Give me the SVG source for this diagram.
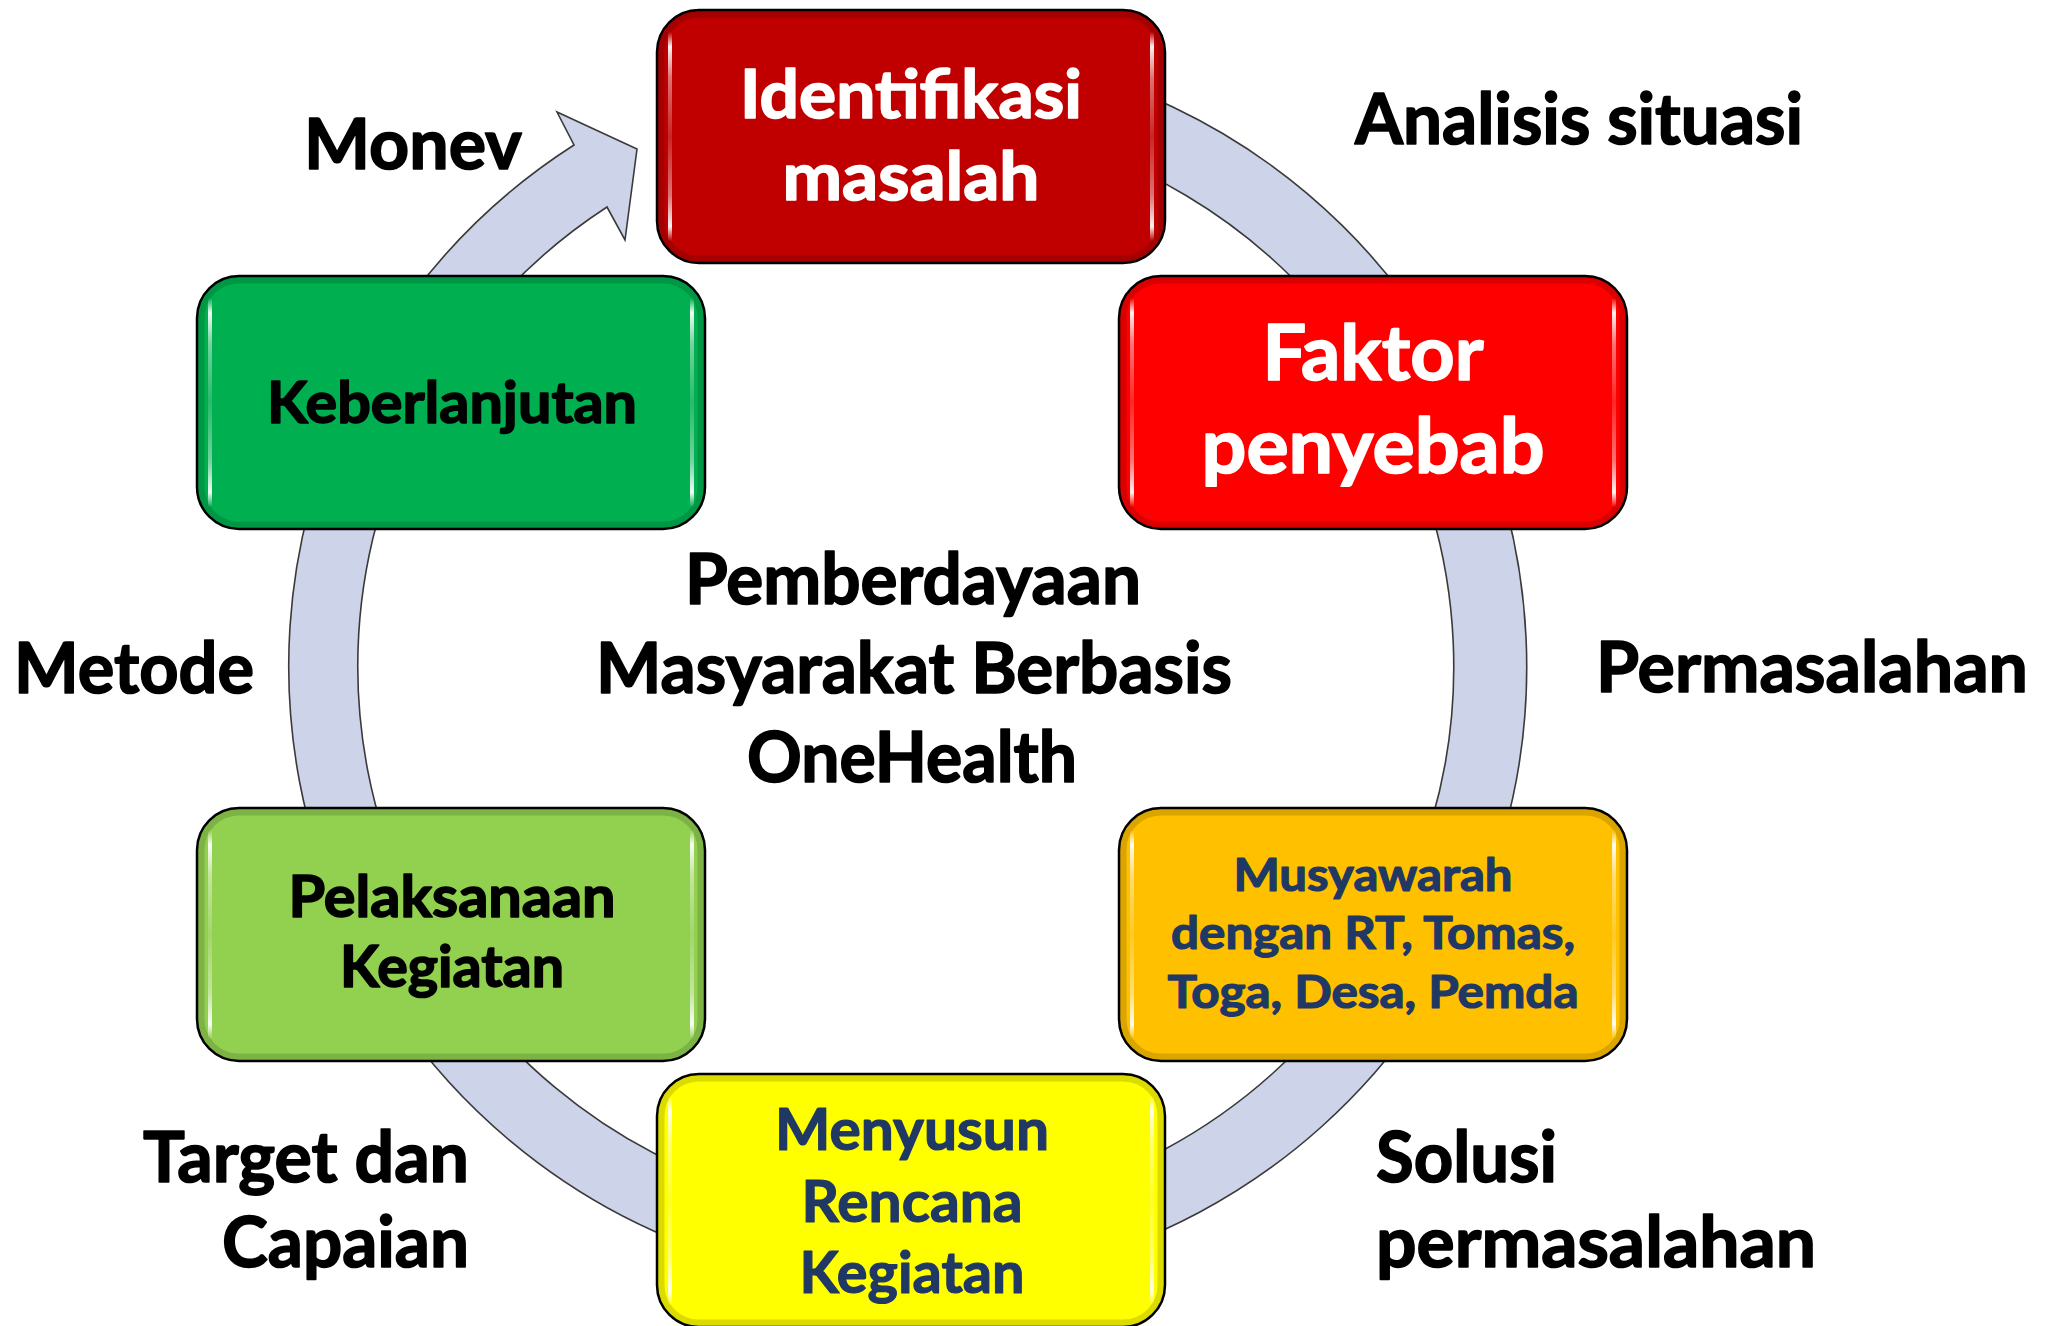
<svg xmlns="http://www.w3.org/2000/svg" xmlns:xlink="http://www.w3.org/1999/xlink" width="2059" height="1326" viewBox="0 0 2059 1326">
  <style>
    .t { font-family: Lato, "Open Sans", "Liberation Sans", sans-serif; font-weight: 700; stroke-width: 1.6; stroke-linejoin: round; }
    .lbl { font-size: 71px; fill: #000000; stroke: #000000; }
    .center { font-size: 70px; fill: #000000; stroke: #000000; text-anchor: middle; }
    .mid { text-anchor: middle; }
    .white { fill: #ffffff; stroke: #ffffff; }
    .black { fill: #000000; stroke: #000000; }
    .navy { fill: #1F3864; stroke: #1F3864; stroke-width: 1.2; }
    .box { stroke: #000000; stroke-width: 2.5; }
    .ring { fill: #CDD4E9; stroke: #3a3a3a; stroke-width: 1.6; stroke-linejoin: miter; }
  </style>
  <defs>
    <!-- glossy side highlights used on every box -->
    <linearGradient id="shine" gradientUnits="userSpaceOnUse" x1="0" y1="22" x2="0" y2="231">
      <stop offset="0" stop-color="#ffffff" stop-opacity="0"/>
      <stop offset="0.07" stop-color="#ffffff" stop-opacity="0.95"/>
      <stop offset="0.22" stop-color="#ffffff" stop-opacity="0.45"/>
      <stop offset="0.5" stop-color="#ffffff" stop-opacity="0.15"/>
      <stop offset="0.78" stop-color="#ffffff" stop-opacity="0.45"/>
      <stop offset="0.93" stop-color="#ffffff" stop-opacity="0.95"/>
      <stop offset="1" stop-color="#ffffff" stop-opacity="0"/>
    </linearGradient>
    <g id="bevel">
      <rect x="4" y="4" width="500" height="245" rx="38" ry="38" fill="none" stroke="#000000" stroke-opacity="0.14" stroke-width="7"/>
      <path d="M13,22 L13,231 M495,22 L495,231" fill="none" stroke="url(#shine)" stroke-width="4" stroke-linecap="round"/>
    </g>
  </defs>

  <rect x="0" y="0" width="2059" height="1326" fill="#ffffff"/>

  <!-- cycle arrow -->
  <g id="connectors">
    <path class="ring" d="M 965,50 A 619,619 0 1 1 574,145 L 557,112 L 637,149 L 625,240 L 607,207 A 548,548 0 1 0 959,121 Z"/>
  </g>

  <!-- step boxes -->
  <g id="node-identifikasi" transform="translate(657,10)">
    <rect class="box" x="0" y="0" width="508" height="253" rx="42" ry="42" fill="#C00000"/>
    <use xlink:href="#bevel"/>
    <text class="t mid white" x="254" y="108" font-size="67" textLength="342" lengthAdjust="spacingAndGlyphs">Identifikasi</text>
    <text class="t mid white" x="254" y="190" font-size="67" textLength="257" lengthAdjust="spacingAndGlyphs">masalah</text>
  </g>

  <g id="node-faktor" transform="translate(1119,276)">
    <rect class="box" x="0" y="0" width="508" height="253" rx="42" ry="42" fill="#FF0000"/>
    <use xlink:href="#bevel"/>
    <text class="t mid white" x="254" y="104" font-size="76" textLength="221" lengthAdjust="spacingAndGlyphs">Faktor</text>
    <text class="t mid white" x="254" y="197" font-size="76" textLength="343" lengthAdjust="spacingAndGlyphs">penyebab</text>
  </g>

  <g id="node-musyawarah" transform="translate(1119,808)">
    <rect class="box" x="0" y="0" width="508" height="253" rx="42" ry="42" fill="#FFC000"/>
    <use xlink:href="#bevel"/>
    <text class="t mid navy" x="254" y="83" font-size="45" textLength="279" lengthAdjust="spacingAndGlyphs">Musyawarah</text>
    <text class="t mid navy" x="254" y="141" font-size="45" textLength="404" lengthAdjust="spacingAndGlyphs">dengan RT, Tomas,</text>
    <text class="t mid navy" x="254" y="200" font-size="45" textLength="411" lengthAdjust="spacingAndGlyphs">Toga, Desa, Pemda</text>
  </g>

  <g id="node-menyusun" transform="translate(657,1074)">
    <rect class="box" x="0" y="0" width="508" height="253" rx="42" ry="42" fill="#FFFF00"/>
    <use xlink:href="#bevel"/>
    <text class="t mid navy" x="255" y="76" font-size="57" textLength="274" lengthAdjust="spacingAndGlyphs">Menyusun</text>
    <text class="t mid navy" x="255" y="148" font-size="57" textLength="221" lengthAdjust="spacingAndGlyphs">Rencana</text>
    <text class="t mid navy" x="255" y="219" font-size="57" textLength="225" lengthAdjust="spacingAndGlyphs">Kegiatan</text>
  </g>

  <g id="node-pelaksanaan" transform="translate(197,808)">
    <rect class="box" x="0" y="0" width="508" height="253" rx="42" ry="42" fill="#92D050"/>
    <use xlink:href="#bevel"/>
    <text class="t mid black" x="255" y="109" font-size="57" textLength="327" lengthAdjust="spacingAndGlyphs">Pelaksanaan</text>
    <text class="t mid black" x="255" y="179" font-size="57" textLength="224" lengthAdjust="spacingAndGlyphs">Kegiatan</text>
  </g>

  <g id="node-keberlanjutan" transform="translate(197,276)">
    <rect class="box" x="0" y="0" width="508" height="253" rx="42" ry="42" fill="#00B050"/>
    <use xlink:href="#bevel"/>
    <text class="t mid black" x="255" y="147" font-size="57" textLength="370" lengthAdjust="spacingAndGlyphs">Keberlanjutan</text>
  </g>

  <!-- centre title -->
  <g id="title">
    <text class="t center" x="913" y="604" textLength="456" lengthAdjust="spacingAndGlyphs">Pemberdayaan</text>
    <text class="t center" x="914" y="693" textLength="636" lengthAdjust="spacingAndGlyphs">Masyarakat Berbasis</text>
    <text class="t center" x="912" y="782" textLength="330" lengthAdjust="spacingAndGlyphs">OneHealth</text>
  </g>

  <!-- stage labels around the cycle -->
  <g id="labels">
    <text class="t lbl" x="304" y="169" textLength="218" lengthAdjust="spacingAndGlyphs">Monev</text>
    <text class="t lbl" x="1355" y="144" textLength="448" lengthAdjust="spacingAndGlyphs">Analisis situasi</text>
    <text class="t lbl" x="1596" y="692" textLength="432" lengthAdjust="spacingAndGlyphs">Permasalahan</text>
    <text class="t lbl" x="14" y="693" textLength="240" lengthAdjust="spacingAndGlyphs">Metode</text>
    <text class="t lbl" x="143" y="1182" textLength="326" lengthAdjust="spacingAndGlyphs">Target dan</text>
    <text class="t lbl" x="222" y="1267" textLength="247" lengthAdjust="spacingAndGlyphs">Capaian</text>
    <text class="t lbl" x="1376" y="1182" textLength="181" lengthAdjust="spacingAndGlyphs">Solusi</text>
    <text class="t lbl" x="1376" y="1267" textLength="440" lengthAdjust="spacingAndGlyphs">permasalahan</text>
  </g>
</svg>
